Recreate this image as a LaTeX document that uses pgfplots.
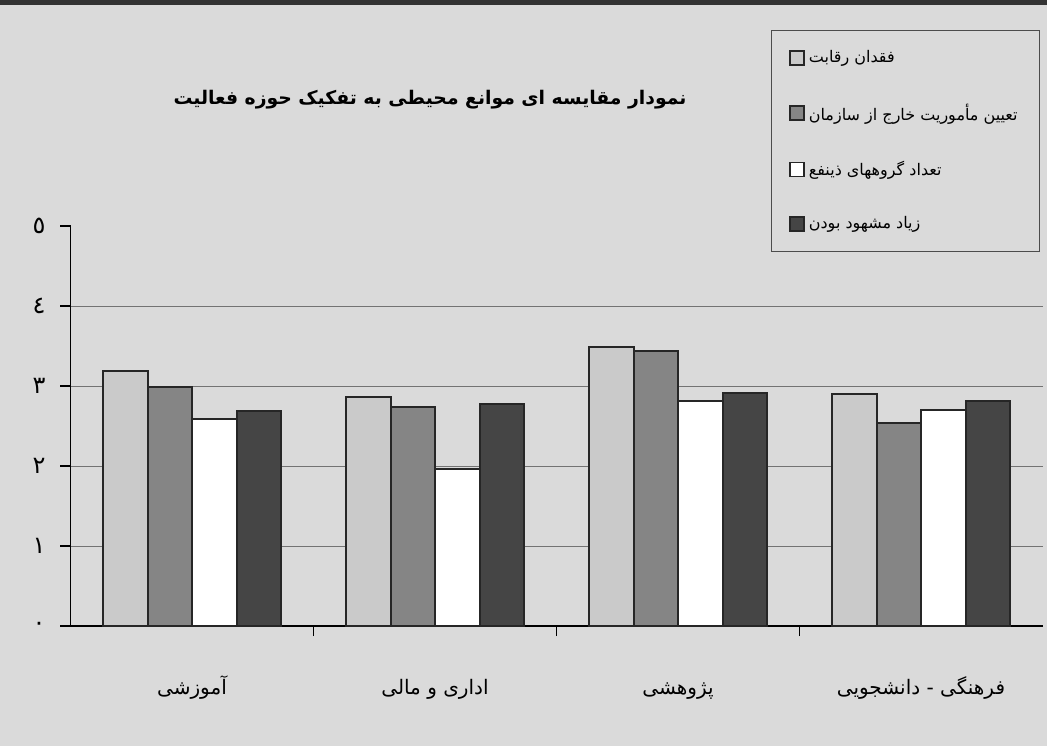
\documentclass[border=0pt]{standalone}
\usepackage{pgfplots}
\pgfplotsset{compat=1.18}
\usepackage{fontspec}
\newfontfamily\arabicfont[Script=Arabic]{DejaVu Sans}
\TeXXeTstate=1
\definecolor{bgc}{HTML}{DADADA}
\definecolor{cA}{HTML}{CACACA}
\definecolor{cB}{HTML}{858585}
\definecolor{cC}{HTML}{FFFFFF}
\definecolor{cD}{HTML}{454545}
\begin{document}
\begin{tikzpicture}
\fill[bgc] (0,0) rectangle (523.5pt,373pt);
\fill[black!80] (0,370.5pt) rectangle (523.5pt,373pt);
\useasboundingbox (0,0) rectangle (523.5pt,373pt);
\begin{axis}[
  at={(35.25pt,60pt)}, anchor=south west,
  scale only axis, width=486pt, height=200pt,
  ybar=0pt, bar width=22.25pt,
  xmin=-0.5, xmax=3.5, ymin=0, ymax=5,
  axis x line*=bottom, axis y line*=left,
  axis line style={-, black, line width=0.8pt},
  tick align=outside, major tick length=5pt,
  tick style={black, line width=0.6pt},
  ytick={0,1,2,3,4,5},
  yticklabels={٠,١,٢,٣,٤,٥},
  yticklabel style={font=\arabicfont\large, xshift=-4pt},
  extra y ticks={1,2,3,4},
  extra y tick labels={},
  extra y tick style={grid=major, major grid style={black!55, line width=0.5pt}},
  xtick={0.5,1.5,2.5},
  xticklabels={,,},
  extra x ticks={0,1,2,3},
  extra x tick labels={{\beginR آموزشی\endR},{\beginR اداری و مالی\endR},{\beginR پژوهشی\endR},{\beginR فرهنگی - دانشجویی\endR}},
  extra x tick style={major tick length=0pt},
  xticklabel style={font=\arabicfont, anchor=base, yshift=-34pt},
  legend style={at={(0.9974,1.49)}, anchor=north east, fill=bgc, draw=black!70,
    font=\arabicfont\footnotesize, row sep=15pt, inner xsep=9pt, inner ysep=8pt},
  legend cell align=left,
  legend image code/.code={\draw[#1, line width=0.8pt] (0pt,-3.5pt) rectangle (7pt,3.5pt);},
  every axis plot/.append style={draw=black!85, line width=1pt},
]
\addplot[fill=cA] coordinates {(0,3.19) (1,2.86) (2,3.49) (3,2.90)};
\addplot[fill=cB] coordinates {(0,2.99) (1,2.74) (2,3.44) (3,2.54)};
\addplot[fill=cC] coordinates {(0,2.59) (1,1.96) (2,2.81) (3,2.70)};
\addplot[fill=cD] coordinates {(0,2.69) (1,2.78) (2,2.91) (3,2.81)};
\addlegendentry{\beginR فقدان رقابت\endR}
\addlegendentry{\beginR تعیین مأموریت خارج از سازمان\endR}
\addlegendentry{\beginR تعداد گروههای ذینفع\endR}
\addlegendentry{\beginR زیاد مشهود بودن\endR}
\end{axis}
\node[font=\arabicfont\bfseries\fontsize{9.4}{11}\selectfont] at (215pt,323pt) {\beginR نمودار مقایسه ای موانع محیطی به تفکیک حوزه فعالیت\endR};
\end{tikzpicture}
\end{document}
